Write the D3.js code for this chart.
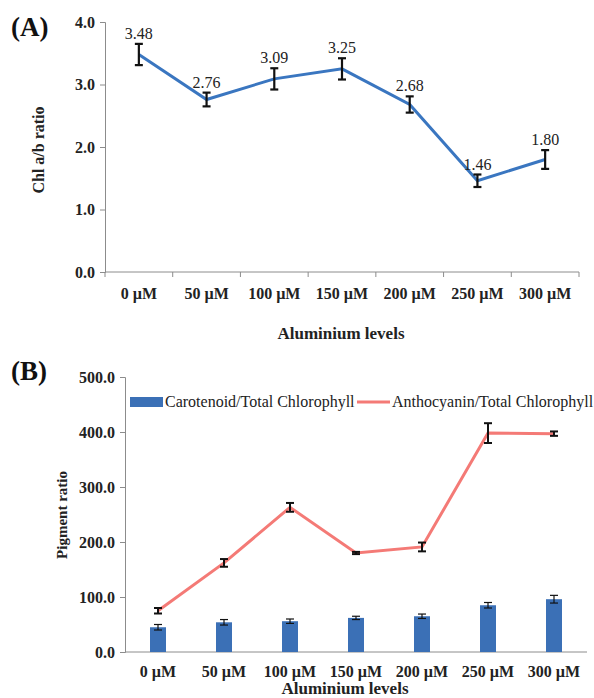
<!DOCTYPE html>
<html>
<head>
<meta charset="utf-8">
<script src="https://cdn.jsdelivr.net/npm/d3@7"></script>
<style>
  body { margin: 0; background: #fff; }
  svg text { font-family: "Liberation Serif", "Times New Roman", serif; }
</style>
</head>
<body>
<div id="canvas"></div>
<script>
// Data.
const levels = ["0 µM", "50 µM", "100 µM", "150 µM", "200 µM", "250 µM", "300 µM"];

const chlRatio = [3.48, 2.76, 3.09, 3.25, 2.68, 1.46, 1.80];
const chlRatioErr = [0.17, 0.11, 0.17, 0.17, 0.13, 0.10, 0.15];

const carotenoid = [45, 54, 56, 62, 65, 85, 96];
const carotenoidErr = [5, 5, 4, 3, 4, 5, 7];

const anthocyanin = [75, 162, 263, 180, 191, 398, 397];
const anthocyaninErr = [5, 7, 8, 2, 8, 18, 4];

const ticksA = [0, 1, 2, 3, 4];
const ticksB = [0, 100, 200, 300, 400, 500];

// Dimensions and colours.
const WIDTH = 594;
const HEIGHT = 698;
const FONT = "Liberation Serif";
const AXIS_COLOR = "#8c8c8c";
const LINE_BLUE = "#3a76c0";
const BAR_BLUE = "#3b70b6";
const LINE_RED = "#f47a76";

const svg = d3.select("#canvas")
              .append("svg")
              .attr("width", WIDTH)
              .attr("height", HEIGHT)
              .attr("font-family", FONT);

drawPanelA();
drawPanelB();

// Draws an error bar (vertical line with caps) centred at x, between y1 and y2.
function errorBar(g, x, y1, y2, cap, width) {
    g.append("line").attr("x1", x).attr("x2", x).attr("y1", y1).attr("y2", y2)
        .attr("stroke", "#111").attr("stroke-width", width);
    [y1, y2].forEach(y => {
        g.append("line").attr("x1", x - cap).attr("x2", x + cap).attr("y1", y).attr("y2", y)
            .attr("stroke", "#111").attr("stroke-width", width);
    });
}

function styleAxis(g) {
    g.attr("font-family", FONT);
    g.selectAll("path, line").attr("stroke", AXIS_COLOR);
    g.selectAll("text")
        .attr("fill", "#222")
        .attr("font-family", FONT)
        .attr("font-weight", "bold")
        .attr("font-size", 16);
}

function label(g, text, size, bold) {
    return g.append("text")
        .attr("font-family", FONT)
        .attr("font-weight", bold ? "bold" : "normal")
        .attr("font-size", size)
        .attr("fill", "#222")
        .text(text);
}

function drawPanelA() {
    const g = svg.append("g");

    const xScale = d3.scaleBand().domain(levels).range([105, 579]);
    const yScale = d3.scaleLinear().domain([0, 4]).range([272, 22]);

    // Y axis.
    const yAxis = g.append("g")
        .attr("transform", "translate(105,0)")
        .call(d3.axisLeft(yScale).tickValues(ticksA).tickFormat(d3.format(".1f")).tickSize(5).tickPadding(5));
    styleAxis(yAxis);

    // X axis, ticks at band boundaries.
    const xAxis = g.append("g")
        .attr("transform", "translate(0,272)")
        .call(d3.axisBottom(xScale).tickSize(0).tickPadding(16));
    styleAxis(xAxis);
    xAxis.select(".domain").attr("d", "M105,0H579");
    const edges = levels.map(d => xScale(d)).concat([xScale.range()[1]]);
    xAxis.selectAll(".edge").data(edges).join("line")
        .attr("class", "edge")
        .attr("x1", d => d).attr("x2", d => d)
        .attr("y1", 0).attr("y2", 5)
        .attr("stroke", AXIS_COLOR);

    // Line.
    const cx = d => xScale(d) + xScale.bandwidth() / 2;
    const line = d3.line().x((d, i) => cx(levels[i])).y(d => yScale(d));
    g.append("path")
        .datum(chlRatio)
        .attr("d", line)
        .attr("fill", "none")
        .attr("stroke", LINE_BLUE)
        .attr("stroke-width", 3);

    // Error bars.
    chlRatio.forEach((v, i) => {
        errorBar(g, cx(levels[i]), yScale(v + chlRatioErr[i]), yScale(v - chlRatioErr[i]), 4, 2.2);
    });

    // Value labels.
    chlRatio.forEach((v, i) => {
        label(g, v.toFixed(2), 16, false)
            .attr("x", cx(levels[i]))
            .attr("y", yScale(v + chlRatioErr[i]) - 5)
            .attr("text-anchor", "middle");
    });

    // Titles.
    label(g, "Chl a/b ratio", 16, true)
        .attr("transform", "translate(44,150) rotate(-90)")
        .attr("text-anchor", "middle");

    label(g, "Aluminium  levels", 17, true)
        .attr("x", 341).attr("y", 339)
        .attr("text-anchor", "middle");

    label(g, "(A)", 27, true)
        .attr("x", 11).attr("y", 36)
        .attr("fill", "#111");
}

function drawPanelB() {
    const g = svg.append("g");

    const xScale = d3.scaleBand().domain(levels).range([125, 587]);
    const yScale = d3.scaleLinear().domain([0, 500]).range([652, 377]);
    const cx = d => xScale(d) + xScale.bandwidth() / 2;

    // Y axis.
    const yAxis = g.append("g")
        .attr("transform", "translate(125,0)")
        .call(d3.axisLeft(yScale).tickValues(ticksB).tickFormat(d3.format(".1f")).tickSize(5).tickPadding(5));
    styleAxis(yAxis);

    // X axis without ticks.
    const xAxis = g.append("g")
        .attr("transform", "translate(0,652)")
        .call(d3.axisBottom(xScale).tickSize(0).tickPadding(14));
    styleAxis(xAxis);
    xAxis.select(".domain").attr("d", "M125,0H587");

    // Bars.
    const barW = 16;
    g.selectAll(".bar").data(carotenoid).join("rect")
        .attr("class", "bar")
        .attr("x", (d, i) => cx(levels[i]) - barW / 2)
        .attr("y", d => yScale(d))
        .attr("width", barW)
        .attr("height", d => yScale(0) - yScale(d))
        .attr("fill", BAR_BLUE);
    carotenoid.forEach((v, i) => {
        errorBar(g, cx(levels[i]), yScale(v + carotenoidErr[i]), yScale(v - carotenoidErr[i]), 4, 1.2);
    });

    // Anthocyanin line.
    const line = d3.line().x((d, i) => cx(levels[i])).y(d => yScale(d));
    g.append("path")
        .datum(anthocyanin)
        .attr("d", line)
        .attr("fill", "none")
        .attr("stroke", LINE_RED)
        .attr("stroke-width", 3);
    anthocyanin.forEach((v, i) => {
        errorBar(g, cx(levels[i]), yScale(v + anthocyaninErr[i]), yScale(v - anthocyaninErr[i]), 4, 2);
    });

    // Legend.
    const legend = g.append("g").attr("transform", "translate(0,402)");
    legend.append("rect").attr("x", 130).attr("y", -5).attr("width", 33).attr("height", 10).attr("fill", BAR_BLUE);
    label(legend, "Carotenoid/Total Chlorophyll", 16, false).attr("x", 165).attr("y", 5);
    legend.append("line").attr("x1", 357).attr("x2", 390).attr("y1", 0).attr("y2", 0)
        .attr("stroke", LINE_RED).attr("stroke-width", 3);
    label(legend, "Anthocyanin/Total Chlorophyll", 16, false).attr("x", 392).attr("y", 5);

    // Titles.
    label(g, "Pigment ratio", 15, true)
        .attr("transform", "translate(67,515) rotate(-90)")
        .attr("text-anchor", "middle");

    label(g, "Aluminium  levels", 17, true)
        .attr("x", 345).attr("y", 694)
        .attr("text-anchor", "middle");

    label(g, "(B)", 27, true)
        .attr("x", 11).attr("y", 380)
        .attr("fill", "#111");
}
</script>
</body>
</html>
